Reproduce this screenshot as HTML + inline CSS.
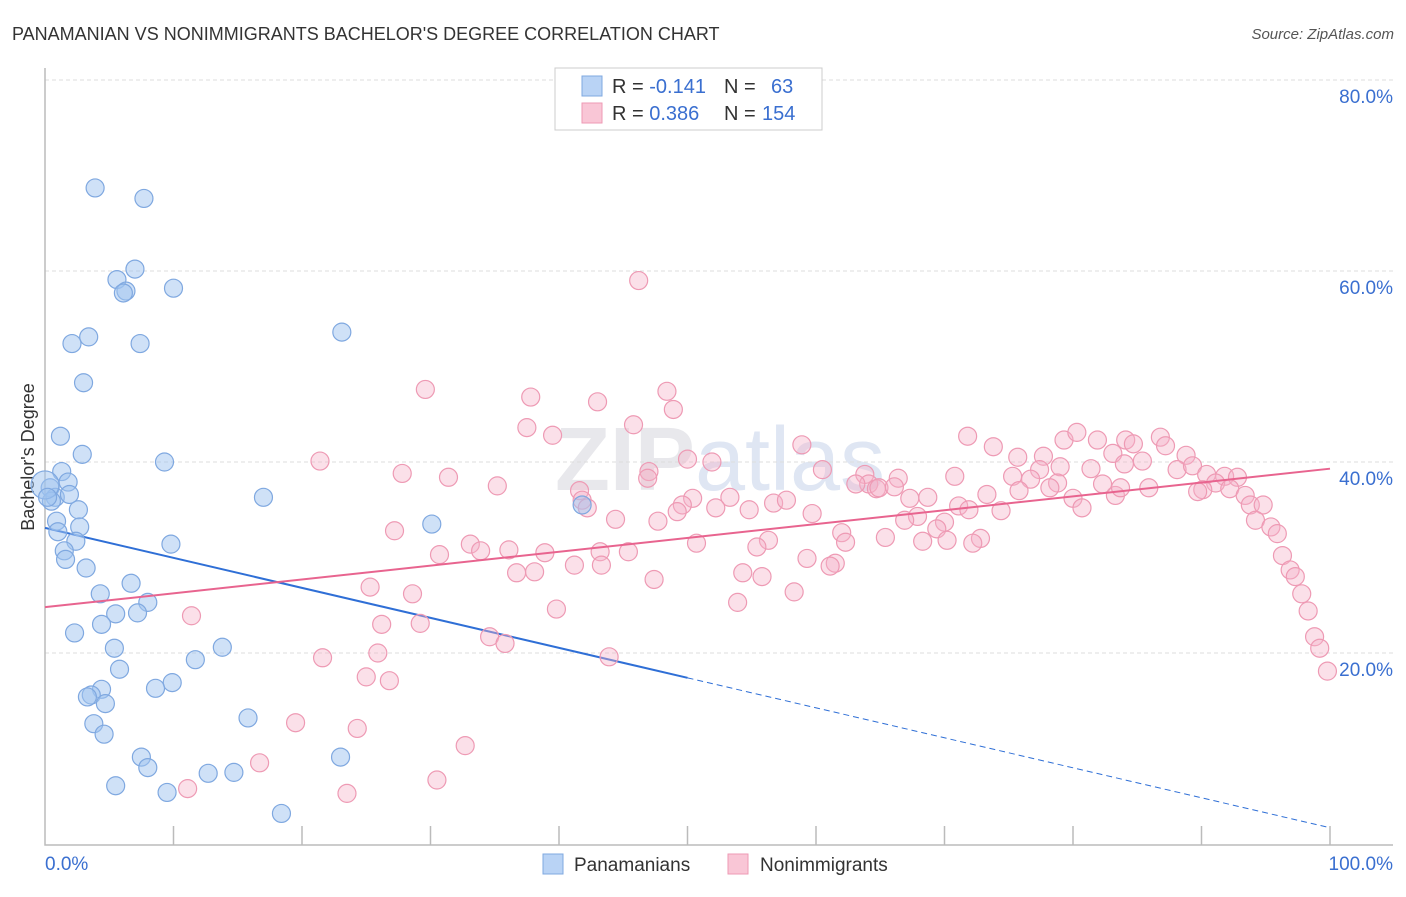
<!DOCTYPE html>
<html><head><meta charset="utf-8"><style>
body{margin:0;background:#fff;font-family:"Liberation Sans",sans-serif;}
svg text{font-family:"Liberation Sans",sans-serif;}
</style></head><body>
<svg id="chart" width="1406" height="892" xmlns="http://www.w3.org/2000/svg">
<text x="12" y="40" font-size="18" fill="#333">PANAMANIAN VS NONIMMIGRANTS BACHELOR'S DEGREE CORRELATION CHART</text>
<text x="1394" y="39" font-size="15" fill="#555" text-anchor="end" font-style="italic">Source: ZipAtlas.com</text>
<text x="720" y="490" font-size="90" fill="#e8e8ec" text-anchor="middle" font-weight="bold">ZIP<tspan fill="#dfe6f3" font-weight="normal">atlas</tspan></text>
<text transform="translate(34,457) rotate(-90)" font-size="18" fill="#333" text-anchor="middle">Bachelor's Degree</text>
<g id="grid"></g><g id="lines"></g><g id="pts"></g>
<g>
<rect x="555" y="68" width="267" height="62" fill="#fff" stroke="#ccc"/>
<rect x="582" y="76" width="20" height="20" fill="#b9d3f5" stroke="#7fa8e0"/>
<rect x="582" y="103" width="20" height="20" fill="#f9c6d6" stroke="#ee9ab4"/>
<text x="612" y="93" font-size="20" fill="#333">R = <tspan fill="#3a6fd0">-0.141</tspan><tspan x="724">N = </tspan><tspan x="771" fill="#3a6fd0">63</tspan></text>
<text x="612" y="120" font-size="20" fill="#333">R = <tspan fill="#3a6fd0"> 0.386</tspan><tspan x="724">N = </tspan><tspan x="762" fill="#3a6fd0">154</tspan></text>
</g>
<g>
<rect x="543" y="854" width="20" height="20" fill="#b9d3f5" stroke="#7fa8e0"/>
<text x="574" y="871" font-size="19" fill="#333">Panamanians</text>
<rect x="728" y="854" width="20" height="20" fill="#f9c6d6" stroke="#ee9ab4"/>
<text x="760" y="871" font-size="19" fill="#333">Nonimmigrants</text>
</g>
</svg>
<script>
const yTicks=[20,40,60,80];
const yTickLabels=["20.0%","40.0%","60.0%","80.0%"];
const xTickLabels=["0.0%","100.0%"];
const blueX=[3.9,7.7,7.0,5.6,6.3,6.1,10.0,3.4,2.1,7.4,23.1,3.0,1.2,2.9,9.3,1.3,1.8,0.4,0.8,1.9,0.5,17.0,2.6,0.9,1.0,2.7,2.4,30.1,9.8,1.5,1.6,3.2,6.7,4.3,8.0,7.2,5.5,4.4,2.3,13.8,5.4,11.7,5.8,9.9,8.6,4.4,3.6,3.3,4.7,15.8,3.8,4.6,7.5,23.0,8.0,12.7,14.7,5.5,9.5,18.4,0,0.2,41.8];
const blueY=[68.7,67.6,60.2,59.1,57.9,57.7,58.2,53.1,52.4,52.4,53.6,48.3,42.7,40.8,40.0,39.0,37.9,37.3,36.3,36.6,35.9,36.3,35.0,33.8,32.7,33.2,31.7,33.5,31.4,30.7,29.8,28.9,27.3,26.2,25.3,24.2,24.1,23.0,22.1,20.6,20.5,19.3,18.3,16.9,16.3,16.2,15.6,15.4,14.7,13.2,12.6,11.5,9.1,9.1,8.0,7.4,7.5,6.1,5.4,3.2,37.6,36.3,35.5];
const pinkX=[46.2,29.6,37.8,43.0,48.4,48.9,37.5,39.5,45.8,58.9,21.4,27.8,31.4,35.2,41.6,41.8,42.2,44.4,47.0,50.0,51.9,46.9,50.4,49.6,49.2,47.7,53.3,52.2,54.8,56.7,57.7,59.7,60.5,63.8,64.1,66.4,64.7,63.1,64.9,66.1,67.3,68.7,67.9,66.9,70.8,71.1,71.8,73.8,75.7,77.7,79.3,80.3,81.9,83.1,84.1,84.7,86.8,87.2,88.8,85.4,84.0,81.4,79.0,77.4,75.3,76.7,78.8,78.2,75.8,80.0,80.7,83.3,82.3,83.7,85.9,88.1,89.3,90.4,91.8,92.8,91.1,90.1,92.2,93.4,89.7,93.8,94.8,94.2,95.4,95.9,96.3,96.9,97.3,97.8,98.3,98.8,99.2,99.8,73.3,71.9,74.4,70.0,69.4,68.3,70.2,72.8,72.2,65.4,62.0,62.3,61.5,61.1,59.3,58.3,56.3,55.4,55.8,54.3,53.9,50.7,45.4,43.2,41.2,43.3,38.9,36.1,33.1,33.9,30.7,27.2,38.1,36.7,47.4,28.6,25.3,39.8,11.4,26.2,29.2,34.6,35.8,43.9,21.6,25.9,25.0,26.8,19.5,24.3,32.7,16.7,30.5,11.1,23.5];
const pinkY=[59.0,47.6,46.8,46.3,47.4,45.5,43.6,42.8,43.9,41.8,40.1,38.8,38.4,37.5,37.0,36.0,35.2,34.0,39.0,40.3,40.0,38.3,36.2,35.5,34.8,33.8,36.3,35.2,35.0,35.7,36.0,34.6,39.2,38.7,37.7,38.3,37.2,37.7,37.3,37.4,36.2,36.3,34.3,33.9,38.5,35.4,42.7,41.6,40.5,40.6,42.3,43.1,42.3,40.9,42.3,41.9,42.6,41.7,40.7,40.1,39.8,39.3,39.5,39.2,38.5,38.2,37.8,37.3,37.0,36.2,35.2,36.5,37.7,37.3,37.3,39.2,39.6,38.7,38.5,38.4,37.8,37.1,37.2,36.5,36.9,35.5,35.5,33.9,33.2,32.5,30.2,28.7,28.0,26.2,24.4,21.7,20.5,18.1,36.6,35.0,34.9,33.7,33.0,31.7,31.8,32.0,31.5,32.1,32.6,31.6,29.4,29.1,29.9,26.4,31.8,31.1,28.0,28.4,25.3,31.5,30.6,30.6,29.2,29.2,30.5,30.8,31.4,30.7,30.3,32.8,28.5,28.4,27.7,26.2,26.9,24.6,23.9,23.0,23.1,21.7,21.0,19.6,19.5,20.0,17.5,17.1,12.7,12.1,10.3,8.5,6.7,5.8,5.3];
const blueTrend=[33.1,1.7];
const pinkTrend=[24.8,39.3];
const NS="http://www.w3.org/2000/svg";
const sx=v=>45+v*12.85;
const sy=v=>844-v*9.55;
function mk(tag,attrs,parent){const e=document.createElementNS(NS,tag);for(const k in attrs)e.setAttribute(k,attrs[k]);parent.appendChild(e);return e;}
const grid=document.getElementById('grid'),lines=document.getElementById('lines'),pts=document.getElementById('pts');
yTicks.forEach((t,i)=>{
 const g=mk('line',{x1:45,x2:1393,y1:sy(t),y2:sy(t),stroke:'#ddd','stroke-dasharray':'4,3'},grid);
 
 
 const l=mk('text',{x:1393,y:sy(t)+23,'font-size':19,fill:'#3a6fd0','text-anchor':'end'},grid);
 l.textContent=yTickLabels[i];
 
 
});
const ax=mk('path',{d:'M45,68V845H1393',fill:'none',stroke:'#bbb','stroke-width':1.5},grid);


for(let i=1;i<=10;i++){const t=mk('line',{x1:sx(i*10),x2:sx(i*10),y1:826,y2:845,stroke:'#bbb','stroke-width':1.5},grid);
 
 }
[0,100].forEach((v,i)=>{const l=mk('text',{x:i?1393:45,y:870,'font-size':19,fill:'#3a6fd0','text-anchor':i?'end':'start'},grid);
 l.textContent=xTickLabels[i];
 
 });
function draw(X,Y,fill,stroke,name){X.forEach((x,i)=>{const c=mk('circle',{cx:sx(x),cy:sy(Y[i]),r:(x===0?14:9),fill:fill,stroke:stroke,'stroke-width':1.2},pts);
 
 });}
draw(pinkX,pinkY,'rgba(246,178,200,0.4)','#ee9ab4','nonimmigrant-point');
draw(blueX,blueY,'rgba(160,196,240,0.5)','#7fa8e0','panamanian-point');
const by=x=>blueTrend[0]+(blueTrend[1]-blueTrend[0])*x/100;
const py=x=>pinkTrend[0]+(pinkTrend[1]-pinkTrend[0])*x/100;
const b1=mk('line',{x1:sx(0),y1:sy(by(0)),x2:sx(50),y2:sy(by(50)),stroke:'#2f6fd6','stroke-width':2},lines);


const b2=mk('line',{x1:sx(50),y1:sy(by(50)),x2:sx(100),y2:sy(by(100)),stroke:'#2f6fd6','stroke-width':1,'stroke-dasharray':'6,4'},lines);


const p1=mk('line',{x1:sx(0),y1:sy(py(0)),x2:sx(100),y2:sy(py(100)),stroke:'#e8648f','stroke-width':2},pts);


</script>
</body></html>
